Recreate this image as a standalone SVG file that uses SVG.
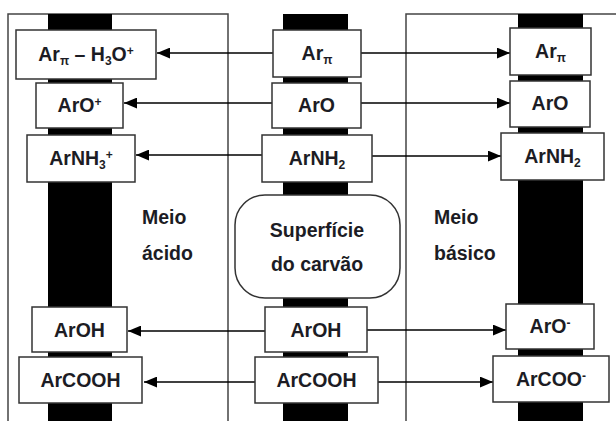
<svg xmlns="http://www.w3.org/2000/svg" width="616" height="421" viewBox="0 0 616 421">
<defs>
<style>
.frame{fill:none;stroke:#444;stroke-width:1.5}
.bar{fill:#000}
.box{fill:#fff;stroke:#333;stroke-width:1.5}
.t{font-family:"Liberation Sans",Arial,sans-serif;font-weight:bold;font-size:19.5px;fill:#1c1c24;text-anchor:middle}
.lab{font-family:"Liberation Sans",Arial,sans-serif;font-weight:bold;font-size:19.5px;fill:#1c1c24}
.s{font-size:12px}
.c{stroke:#000;stroke-width:1.3;fill:none}
</style>
<marker id="ah" viewBox="0 0 12 10" refX="12" refY="5" markerWidth="13" markerHeight="11" markerUnits="userSpaceOnUse" orient="auto">
<path d="M0,0 L12,5 L0,10 Z" fill="#000"/>
</marker>
</defs>
<rect width="616" height="421" fill="#fff"/>
<g id="frames">
<path class="frame" d="M8,421 V14 H228 V421"/>
<path class="frame" d="M406,421 V14 H616"/>
</g>
<g id="bars">
<rect class="bar" x="48" y="14" width="64" height="407"/>
<rect class="bar" x="283" y="14" width="65" height="407"/>
<rect class="bar" x="518" y="14" width="65" height="407"/>
</g>
<g id="connectors">
<line class="c" x1="273" y1="53" x2="157" y2="53" marker-end="url(#ah)"/>
<line class="c" x1="361" y1="53" x2="510" y2="53" marker-end="url(#ah)"/>
<line class="c" x1="272" y1="103" x2="124" y2="103" marker-end="url(#ah)"/>
<line class="c" x1="361" y1="103" x2="510" y2="103" marker-end="url(#ah)"/>
<line class="c" x1="262" y1="155" x2="136" y2="155" marker-end="url(#ah)"/>
<line class="c" x1="372" y1="156" x2="501" y2="156" marker-end="url(#ah)"/>
<line class="c" x1="265" y1="331" x2="128" y2="331" marker-end="url(#ah)"/>
<line class="c" x1="367" y1="330" x2="506" y2="330" marker-end="url(#ah)"/>
<line class="c" x1="255" y1="382" x2="144" y2="382" marker-end="url(#ah)"/>
<line class="c" x1="378" y1="382" x2="493" y2="382" marker-end="url(#ah)"/>
</g>
<g id="acid-arpi">
<rect class="box" x="16" y="30" width="140" height="49"/>
<text class="t" x="86" y="61">Ar<tspan class="s" dy="4">π</tspan><tspan dy="-4"> – H</tspan><tspan class="s" dy="4">3</tspan><tspan dy="-4">O</tspan><tspan class="s" dy="-6">+</tspan></text>
</g>
<g id="acid-aro">
<rect class="box" x="36" y="83" width="87" height="45"/>
<text class="t" x="79.5" y="112">ArO<tspan class="s" dy="-6">+</tspan></text>
</g>
<g id="acid-arnh3">
<rect class="box" x="27" y="135" width="108" height="47"/>
<text class="t" x="81" y="165">ArNH<tspan class="s" dy="4">3</tspan><tspan class="s" dy="-10">+</tspan></text>
</g>
<g id="acid-aroh">
<rect class="box" x="32" y="307" width="95" height="45"/>
<text class="t" x="79.5" y="336.5">ArOH</text>
</g>
<g id="acid-arcooh">
<rect class="box" x="19" y="357" width="123" height="46"/>
<text class="t" x="80.5" y="387">ArCOOH</text>
</g>
<g id="surf-arpi">
<rect class="box" x="273" y="30" width="88" height="47"/>
<text class="t" x="317" y="60">Ar<tspan class="s" dy="4">π</tspan></text>
</g>
<g id="surf-aro">
<rect class="box" x="272" y="83" width="89" height="45"/>
<text class="t" x="316.5" y="112">ArO</text>
</g>
<g id="surf-arnh2">
<rect class="box" x="262" y="135" width="110" height="47"/>
<text class="t" x="317" y="165">ArNH<tspan class="s" dy="4">2</tspan></text>
</g>
<g id="surf-label">
<rect class="box" x="235" y="195" width="165" height="103" rx="30" ry="30"/>
<text class="t" x="317" y="237">Superfície</text>
<text class="t" x="317" y="271">do carvão</text>
</g>
<g id="surf-aroh">
<rect class="box" x="265" y="307" width="102" height="45"/>
<text class="t" x="316" y="336.5">ArOH</text>
</g>
<g id="surf-arcooh">
<rect class="box" x="255" y="357" width="123" height="46"/>
<text class="t" x="316.5" y="387">ArCOOH</text>
</g>
<g id="base-arpi">
<rect class="box" x="510" y="28" width="81" height="47"/>
<text class="t" x="550.5" y="58">Ar<tspan class="s" dy="4">π</tspan></text>
</g>
<g id="base-aro">
<rect class="box" x="510" y="81" width="80" height="46"/>
<text class="t" x="550" y="110">ArO</text>
</g>
<g id="base-arnh2">
<rect class="box" x="501" y="133" width="103" height="47"/>
<text class="t" x="552.5" y="163">ArNH<tspan class="s" dy="4">2</tspan></text>
</g>
<g id="base-aro-minus">
<rect class="box" x="506" y="304" width="88" height="45"/>
<text class="t" x="550" y="333">ArO<tspan class="s" dy="-6">-</tspan></text>
</g>
<g id="base-arcoo-minus">
<rect class="box" x="493" y="356" width="116" height="46"/>
<text class="t" x="551" y="386">ArCOO<tspan class="s" dy="-6">-</tspan></text>
</g>
<g id="labels">
<text class="lab" x="142" y="224">Meio</text>
<text class="lab" x="142" y="260">ácido</text>
<text class="lab" x="434" y="224">Meio</text>
<text class="lab" x="434" y="260">básico</text>
</g>
</svg>
